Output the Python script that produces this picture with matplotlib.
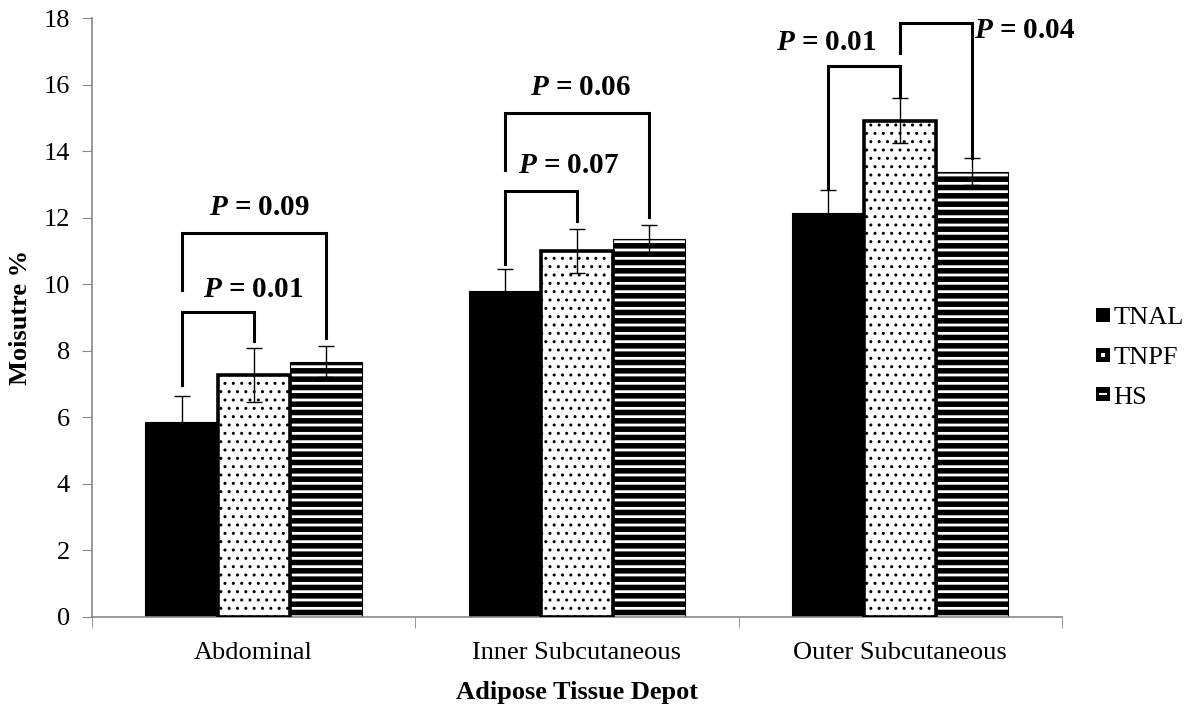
import matplotlib
matplotlib.use("Agg")
import matplotlib.pyplot as plt
import numpy as np
from matplotlib.lines import Line2D
from matplotlib.path import Path

plt.rcParams['font.family'] = ['Liberation Serif', 'DejaVu Serif']
plt.rcParams['mathtext.fontset'] = 'custom'
plt.rcParams['mathtext.it'] = 'Liberation Serif:italic:bold'
plt.rcParams['mathtext.rm'] = 'Liberation Serif:bold'

depots = ["Abdominal", "Inner Subcutaneous", "Outer Subcutaneous"]
groups = ["TNAL", "TNPF", "HS"]
tnal = [5.85, 9.81, 12.15]
tnpf = [7.27, 11.0, 14.92]
hs = [7.67, 11.36, 13.38]
tnal_err = [0.8, 0.64, 0.68]
tnpf_err = [0.82, 0.66, 0.69]
hs_err = [0.47, 0.41, 0.4]

# brackets: depot, left bar, right bar, top, left leg end, right leg end, label, text x, text y
br_depot = [0, 0, 1, 1, 2, 2]
br_left = [0, 0, 0, 0, 0, 1]
br_right = [1, 2, 1, 2, 1, 2]
br_top = [9.18, 11.53, 12.81, 15.16, 16.56, 17.84]
br_lbot = [6.97, 9.83, 10.61, 13.44, 12.89, 16.95]
br_rbot = [8.30, 8.39, 11.91, 12.01, 15.64, 13.80]
br_label = ["0.01", "0.09", "0.07", "0.06", "0.01", "0.04"]
txt_x = [0.0, 0.017, 0.974, 1.01, 1.77, 2.385]
txt_y = [9.83, 12.32, 13.56, 15.9, 17.25, 17.64]

fig = plt.figure(figsize=(12.01, 7.07), dpi=100)
ax = fig.add_axes([0.0766, 0.1273, 0.8075, 0.8472])

x = np.arange(len(depots))
w = 0.223
bars1 = ax.bar(x - w, tnal, w, color='black', edgecolor='black', linewidth=0.8, zorder=2)
plt.rcParams['hatch.linewidth'] = 1.0
bars2 = ax.bar(x, tnpf, w, color='white', edgecolor='black', linewidth=2.6, hatch='..', zorder=3)
plt.rcParams['hatch.linewidth'] = 4.0
bars3 = ax.bar(x + w, hs, w, color='white', edgecolor='black', linewidth=0.8, hatch='--', zorder=2)
for b in bars3:
    if hasattr(b, 'set_hatch_linewidth'):
        b.set_hatch_linewidth(4.0)
for b in bars2:
    if hasattr(b, 'set_hatch_linewidth'):
        b.set_hatch_linewidth(1.0)

ekw = dict(fmt='none', ecolor='black', elinewidth=1.0, capsize=6, capthick=1.0, zorder=4)
ax.errorbar(x - w, tnal, yerr=tnal_err, **ekw)
ax.errorbar(x, tnpf, yerr=tnpf_err, **ekw)
ax.errorbar(x + w, hs, yerr=hs_err, **ekw)

for i in range(len(br_label)):
    xl = br_depot[i] + (br_left[i] - 1) * w
    xr = br_depot[i] + (br_right[i] - 1) * w
    ax.plot([xl, xl, xr, xr], [br_lbot[i], br_top[i], br_top[i], br_rbot[i]],
            color='black', lw=2.2, solid_joinstyle='miter', zorder=5)
    ax.text(txt_x[i], txt_y[i], r"$P$ = " + br_label[i], ha='center', va='center',
            fontsize=21, fontweight='bold')

ax.set_xlim(-0.5, 2.5)
ax.set_ylim(0, 18)
ax.set_yticks(np.arange(0, 19, 2))
ax.set_xticks(x)
ax.set_xticklabels(depots, fontsize=19)
ax.set_xticks([-0.5, 0.5, 1.5, 2.5], minor=True)
ax.tick_params(axis='x', which='major', length=0, pad=18)
ax.tick_params(axis='x', which='minor', length=8, color='#888888', direction='out')
ax.tick_params(axis='y', labelsize=19, length=7, color='#888888', pad=9)
for s in ['top', 'right']:
    ax.spines[s].set_visible(False)
for s in ['left', 'bottom']:
    ax.spines[s].set_color('#888888')
    ax.spines[s].set_linewidth(1.2)

ax.set_xlabel("Adipose Tissue Depot", fontsize=19, fontweight='bold', labelpad=12)
ax.set_ylabel("Moisutre %", fontsize=19, fontweight='bold', labelpad=8)


def holed_square(hx, hy):
    outer = [(-1, -1), (1, -1), (1, 1), (-1, 1), (-1, -1)]
    inner = [(-hx, -hy), (-hx, hy), (hx, hy), (hx, -hy), (-hx, -hy)]
    verts = outer + inner
    codes = [Path.MOVETO] + [Path.LINETO] * 3 + [Path.CLOSEPOLY]
    codes = codes + codes
    return Path(verts, codes)


mk = dict(color='black', markersize=10, linestyle='none', markeredgewidth=0)
h1 = Line2D([], [], marker='s', **mk)
h2 = Line2D([], [], marker=holed_square(0.3, 0.3), **mk)
h3 = Line2D([], [], marker=holed_square(0.55, 0.2), **mk)
fig.legend([h1, h2, h3], groups, loc='center left', bbox_to_anchor=(0.893, 0.495),
           frameon=False, fontsize=19, handlelength=0.5, handletextpad=0.15,
           labelspacing=0.62)

fig.savefig("out.png", dpi=100)
